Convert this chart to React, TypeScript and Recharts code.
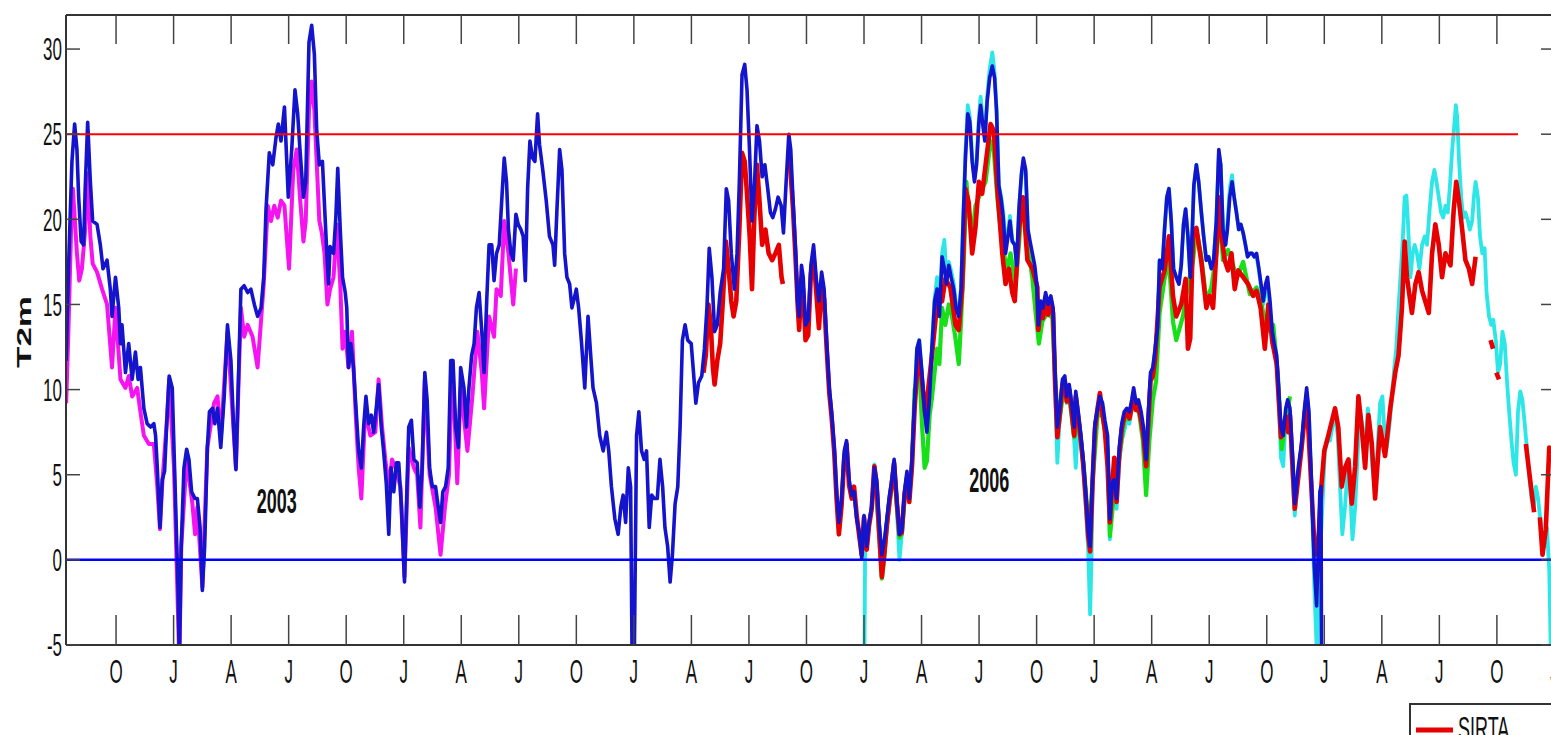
import React from "react";
import {
  LineChart,
  Line,
  XAxis,
  YAxis,
  ReferenceLine,
  ReferenceDot,
  Legend,
} from "recharts";

// [month since 1 Jul 2002, T2m in degC]; null breaks the line
type Row = [number, number | null];

const blueT2m: Row[] = [
  [0.40, 11.7], [0.52, 17.1], [0.70, 23.4], [0.84, 25.6], [0.96, 24.1], [1.05, 21.3], [1.18, 18.7], [1.31, 18.5],
  [1.39, 21.8], [1.52, 25.7], [1.66, 22.2], [1.78, 19.9], [2.01, 19.7], [2.18, 18.5], [2.32, 17.1], [2.53, 17.6],
  [2.70, 15.9], [2.79, 14.3], [2.97, 16.6], [3.14, 14.8], [3.23, 12.7], [3.31, 13.8], [3.49, 11.0], [3.66, 12.7],
  [3.84, 10.6], [4.01, 12.2], [4.15, 10.6], [4.27, 11.3], [4.45, 8.9], [4.62, 8.0], [4.80, 7.8], [4.97, 8.0],
  [5.06, 7.3], [5.15, 5.4], [5.29, 1.9], [5.41, 4.7], [5.53, 5.2], [5.67, 8.7], [5.77, 10.8], [5.93, 10.1],
  [6.05, 5.4], [6.23, -1.6], [6.30, -6.0], [6.40, 0.8], [6.54, 5.4], [6.68, 6.5], [6.80, 5.9], [6.94, 4.0],
  [7.12, 3.6], [7.24, 3.6], [7.38, 1.9], [7.50, -1.8], [7.62, 0.8], [7.76, 6.6], [7.87, 8.7], [8.03, 8.9],
  [8.15, 8.0], [8.29, 8.9], [8.46, 6.6], [8.64, 9.6], [8.81, 13.8], [8.99, 11.7], [9.13, 7.8], [9.25, 5.3],
  [9.37, 10.1], [9.51, 15.9], [9.68, 16.1], [9.86, 15.7], [10.03, 15.9], [10.21, 15.0], [10.38, 14.3], [10.56, 14.8],
  [10.70, 16.6], [10.82, 20.6], [10.99, 23.9], [11.17, 23.2], [11.34, 24.8], [11.46, 25.6], [11.60, 24.6], [11.78, 26.6],
  [11.98, 21.3], [12.16, 24.1], [12.33, 27.6], [12.47, 26.2], [12.59, 24.1], [12.77, 21.3], [12.89, 22.2], [13.06, 30.4],
  [13.20, 31.4], [13.34, 29.7], [13.46, 25.3], [13.60, 23.2], [13.76, 23.4], [13.87, 20.8], [13.99, 18.0], [14.08, 16.2],
  [14.16, 18.4], [14.34, 18.0], [14.46, 20.1], [14.56, 23.0], [14.69, 19.4], [14.81, 16.6], [14.95, 15.7], [15.03, 14.8],
  [15.12, 11.3], [15.24, 12.7], [15.38, 11.3], [15.51, 8.9], [15.65, 6.4], [15.79, 5.4], [15.91, 7.8], [16.03, 9.6],
  [16.17, 8.0], [16.31, 8.5], [16.43, 7.5], [16.55, 8.7], [16.69, 10.3], [16.83, 7.8], [16.95, 6.4], [17.09, 4.5],
  [17.22, 1.5], [17.34, 5.4], [17.48, 4.0], [17.62, 5.7], [17.74, 5.7], [17.88, 3.1], [18.04, -1.3], [18.14, 3.1],
  [18.26, 7.8], [18.40, 8.2], [18.53, 5.9], [18.70, 5.7], [18.84, 3.1], [18.96, 5.4], [19.10, 11.0], [19.22, 9.4],
  [19.35, 5.4], [19.49, 4.3], [19.66, 4.3], [19.80, 3.1], [19.92, 2.2], [20.04, 4.0], [20.18, 4.3], [20.32, 5.4],
  [20.45, 11.7], [20.57, 11.7], [20.71, 7.8], [20.85, 6.6], [20.97, 11.3], [21.14, 10.1], [21.27, 7.8], [21.40, 10.1],
  [21.54, 12.0], [21.67, 12.7], [21.79, 14.8], [21.93, 15.7], [22.07, 13.4], [22.19, 11.0], [22.33, 15.3], [22.45, 18.5],
  [22.59, 18.5], [22.71, 16.4], [22.84, 18.0], [22.98, 18.5], [23.12, 21.3], [23.24, 23.6], [23.36, 22.2], [23.46, 19.4],
  [23.59, 18.0], [23.71, 17.6], [23.85, 20.3], [23.97, 19.7], [24.11, 19.4], [24.23, 19.0], [24.34, 16.4], [24.46, 21.8],
  [24.58, 24.6], [24.72, 23.6], [24.84, 23.4], [24.98, 26.2], [25.08, 24.4], [25.25, 22.9], [25.43, 21.1], [25.60, 19.0],
  [25.78, 18.5], [25.87, 17.3], [25.99, 20.6], [26.13, 24.1], [26.25, 22.9], [26.39, 18.0], [26.51, 16.6], [26.65, 16.2],
  [26.77, 14.8], [26.88, 15.3], [27.00, 15.9], [27.12, 14.8], [27.26, 12.9], [27.44, 10.1], [27.61, 14.3], [27.75, 12.0],
  [27.87, 10.1], [28.05, 9.2], [28.22, 7.3], [28.40, 6.4], [28.57, 7.5], [28.69, 6.4], [28.83, 4.3], [29.01, 2.4],
  [29.18, 1.5], [29.32, 3.1], [29.44, 3.8], [29.57, 2.2], [29.71, 5.4], [29.83, 4.3], [29.91, -6.0], [30.02, -6.0],
  [30.14, 7.3], [30.26, 8.7], [30.40, 6.4], [30.54, 5.9], [30.66, 6.4], [30.80, 1.9], [30.93, 3.8], [31.07, 3.6],
  [31.22, 3.6], [31.36, 5.9], [31.50, 4.3], [31.62, 1.9], [31.76, 0.8], [31.89, -1.3], [32.01, 0.3], [32.15, 3.3],
  [32.29, 4.3], [32.41, 7.8], [32.53, 12.9], [32.67, 13.8], [32.81, 12.9], [32.99, 12.7], [33.11, 11.0], [33.23, 9.2],
  [33.37, 10.4], [33.54, 10.8], [33.68, 12.4], [33.81, 14.8], [33.93, 18.3], [34.07, 16.6], [34.21, 13.4], [34.35, 13.8],
  [34.50, 15.7], [34.68, 17.1], [34.82, 21.8], [34.94, 21.1], [35.08, 18.0], [35.24, 15.9], [35.38, 18.0], [35.50, 22.2],
  [35.64, 28.5], [35.78, 29.1], [35.90, 27.6], [36.03, 24.1], [36.16, 19.9], [36.28, 21.8], [36.42, 25.5], [36.55, 24.6],
  [36.69, 22.5], [36.83, 23.2], [36.98, 21.8], [37.12, 20.4], [37.24, 20.1], [37.38, 20.6], [37.52, 21.3], [37.68, 20.8],
  [37.80, 19.2], [37.94, 22.2], [38.08, 25.0], [38.18, 24.1], [38.30, 21.1], [38.44, 18.0], [38.53, 15.2], [38.62, 14.3],
  [38.74, 17.3], [38.83, 16.6], [38.95, 13.8], [39.09, 14.1], [39.23, 17.3], [39.37, 18.5], [39.52, 16.4], [39.65, 15.2],
  [39.79, 16.9], [39.92, 15.9], [40.05, 12.9], [40.19, 10.1], [40.31, 8.7], [40.45, 6.6], [40.57, 4.0], [40.69, 2.2],
  [40.83, 3.6], [40.97, 6.4], [41.09, 7.0], [41.22, 4.7], [41.36, 3.8], [41.48, 4.0], [41.62, 2.4], [41.74, 1.7],
  [41.88, 0.1], [42.00, 2.6], [42.14, 0.8], [42.26, 2.2], [42.40, 3.1], [42.54, 5.4], [42.66, 4.7], [42.79, 2.2],
  [42.93, 0.3], [43.07, 1.2], [43.19, 2.4], [43.33, 3.8], [43.45, 4.7], [43.57, 5.9], [43.71, 3.6], [43.85, 1.5],
  [43.97, 1.7], [44.11, 4.0], [44.24, 5.2], [44.36, 3.6], [44.50, 5.9], [44.64, 9.4], [44.76, 12.4], [44.88, 12.9],
  [45.02, 11.0], [45.16, 8.7], [45.28, 7.5], [45.42, 9.6], [45.54, 12.4], [45.68, 15.2], [45.81, 15.9], [45.93, 14.3],
  [46.07, 17.8], [46.19, 17.1], [46.30, 16.2], [46.42, 17.3], [46.54, 16.6], [46.68, 15.9], [46.80, 14.8], [46.94, 14.3],
  [47.06, 15.9], [47.17, 19.9], [47.29, 23.6], [47.41, 26.2], [47.52, 25.7], [47.64, 23.4], [47.76, 22.2], [47.87, 23.2],
  [47.99, 25.7], [48.08, 26.7], [48.20, 25.5], [48.30, 24.6], [48.42, 26.9], [48.55, 28.3], [48.69, 29.0], [48.81, 28.3],
  [48.91, 26.4], [49.03, 22.0], [49.16, 21.1], [49.26, 20.1], [49.38, 18.0], [49.51, 19.0], [49.61, 19.9], [49.73, 18.7],
  [49.86, 18.5], [49.96, 17.3], [50.08, 20.6], [50.21, 22.7], [50.31, 23.6], [50.43, 22.9], [50.55, 19.4], [50.66, 18.7],
  [50.78, 18.0], [50.90, 17.3], [51.01, 16.2], [51.09, 13.8], [51.21, 15.2], [51.33, 14.8], [51.47, 15.7], [51.60, 15.0],
  [51.74, 15.5], [51.86, 14.8], [51.96, 11.0], [52.08, 7.8], [52.21, 8.9], [52.35, 10.6], [52.47, 10.8], [52.57, 9.6],
  [52.70, 10.3], [52.83, 9.2], [52.96, 7.8], [53.04, 9.9], [53.17, 8.7], [53.31, 7.3], [53.43, 5.9], [53.57, 3.8],
  [53.69, 1.7], [53.79, 0.8], [53.92, 5.0], [54.04, 8.0], [54.18, 8.9], [54.30, 9.6], [54.44, 9.2], [54.56, 8.2],
  [54.70, 7.3], [54.82, 2.4], [54.93, 4.5], [55.05, 4.7], [55.17, 3.6], [55.31, 6.6], [55.44, 8.0], [55.57, 8.7],
  [55.70, 8.9], [55.84, 8.7], [55.96, 9.4], [56.06, 10.1], [56.19, 9.2], [56.31, 9.4], [56.45, 8.7], [56.57, 7.8],
  [56.71, 5.9], [56.83, 8.7], [56.94, 11.0], [57.06, 11.3], [57.18, 12.4], [57.30, 13.6], [57.41, 17.6], [57.55, 17.1],
  [57.67, 19.4], [57.79, 21.3], [57.90, 21.8], [58.02, 19.9], [58.14, 17.1], [58.28, 16.6], [58.42, 16.2], [58.54, 17.3],
  [58.66, 19.7], [58.77, 20.6], [58.89, 19.0], [59.01, 16.6], [59.12, 19.4], [59.20, 22.0], [59.33, 23.2], [59.45, 22.2],
  [59.59, 20.4], [59.71, 19.0], [59.85, 17.6], [59.97, 17.8], [60.11, 17.1], [60.23, 17.6], [60.37, 19.9], [60.50, 24.1],
  [60.60, 23.2], [60.72, 19.4], [60.85, 18.5], [60.95, 19.4], [61.07, 21.3], [61.19, 22.2], [61.30, 21.3], [61.42, 20.4],
  [61.54, 19.4], [61.65, 19.7], [61.77, 19.2], [61.89, 18.5], [62.00, 17.8], [62.12, 18.0], [62.24, 18.0], [62.35, 17.8],
  [62.47, 18.0], [62.59, 17.1], [62.70, 16.2], [62.82, 15.2], [62.94, 16.2], [63.04, 16.6], [63.17, 15.2], [63.29, 13.4],
  [63.39, 12.7], [63.52, 12.0], [63.64, 9.6], [63.74, 7.8], [63.86, 7.3], [63.99, 8.9], [64.09, 9.4], [64.21, 8.9],
  [64.35, 6.0], [64.46, 3.3], [64.64, 5.4], [64.81, 6.8], [64.95, 8.7], [65.08, 10.1], [65.20, 8.7], [65.34, 4.3],
  [65.48, -0.4], [65.60, -2.7], [65.69, 0.8], [65.77, 4.0], [65.83, 4.3], [65.86, -8.0],
];

const magentaT2m: Row[] = [
  [0.40, 9.2], [0.52, 13.6], [0.70, 21.3], [0.75, 21.8], [0.96, 18.0], [1.08, 16.4], [1.22, 17.1], [1.39, 19.4],
  [1.52, 22.7], [1.66, 19.0], [1.78, 17.4], [2.01, 16.9], [2.27, 15.9], [2.53, 15.0], [2.79, 11.3], [2.97, 14.8],
  [3.23, 10.6], [3.49, 10.1], [3.66, 10.8], [3.84, 9.6], [4.10, 10.1], [4.27, 8.7], [4.45, 7.3], [4.71, 6.8],
  [4.97, 6.8], [5.15, 4.3], [5.29, 1.8], [5.41, 4.5], [5.67, 8.5], [5.77, 10.6], [6.02, 5.4], [6.30, -6.0],
  [6.40, 0.8], [6.68, 5.9], [6.98, 3.3], [7.12, 1.5], [7.24, 3.1], [7.50, -1.6], [7.76, 6.6], [8.11, 9.2],
  [8.29, 9.6], [8.46, 7.1], [8.81, 13.4], [9.25, 5.4], [9.51, 14.8], [9.68, 13.1], [9.86, 13.8], [10.12, 13.1],
  [10.38, 11.3], [10.70, 16.2], [10.91, 20.8], [11.08, 19.9], [11.25, 20.8], [11.43, 20.1], [11.60, 21.1], [11.78, 20.8],
  [12.02, 17.1], [12.24, 22.9], [12.42, 24.1], [12.59, 21.3], [12.77, 18.7], [12.89, 19.9], [13.06, 26.4], [13.20, 28.1],
  [13.34, 26.4], [13.46, 23.4], [13.60, 19.9], [13.73, 19.2], [13.87, 18.0], [14.02, 15.0], [14.16, 15.9], [14.34, 16.6],
  [14.51, 19.7], [14.69, 16.2], [14.81, 12.4], [14.95, 13.4], [15.12, 11.3], [15.30, 13.4], [15.51, 8.2], [15.65, 5.4],
  [15.79, 3.6], [15.99, 8.7], [16.26, 7.3], [16.52, 7.5], [16.69, 10.6], [16.87, 7.8], [17.04, 5.9], [17.22, 4.3],
  [17.39, 5.9], [17.57, 5.4], [17.83, 4.3], [18.04, -1.0], [18.26, 6.6], [18.53, 5.4], [18.70, 5.0], [18.87, 1.9],
  [19.10, 10.6], [19.35, 5.0], [19.66, 3.1], [19.92, 0.3], [20.15, 3.1], [20.36, 5.0], [20.53, 11.7], [20.79, 4.5],
  [20.97, 10.1], [21.32, 6.4], [21.58, 9.6], [21.84, 13.4], [22.07, 11.0], [22.19, 8.9], [22.45, 14.3], [22.71, 13.1],
  [22.84, 15.9], [23.06, 15.5], [23.24, 19.9], [23.46, 18.0], [23.71, 15.0], [23.85, 17.1],
];

const sirtaT2m: Row[] = [
  [33.63, 11.0], [33.75, 12.0], [33.89, 15.0], [34.01, 13.8], [34.12, 11.3], [34.21, 10.3], [34.35, 11.7], [34.50, 12.7],
  [34.64, 15.2], [34.80, 18.7], [34.94, 17.1], [35.08, 15.2], [35.20, 14.3], [35.34, 15.2], [35.50, 19.4], [35.64, 23.9],
  [35.78, 23.4], [35.90, 21.5], [36.04, 19.0], [36.16, 15.9], [36.28, 20.1], [36.42, 23.2], [36.55, 21.1], [36.69, 18.5],
  [36.86, 19.4], [37.03, 18.0], [37.21, 17.6], [37.38, 18.0], [37.56, 18.5], [37.70, 16.6], [37.77, 16.2], [37.90, null],
  [38.10, 24.0], [38.30, 20.6], [38.44, 17.5], [38.55, 14.8], [38.62, 13.5], [38.74, 16.5], [38.83, 15.8], [38.95, 12.9],
  [39.09, 13.2], [39.23, 16.8], [39.37, 17.8], [39.52, 15.6], [39.65, 13.6], [39.79, 16.2], [39.92, 15.3], [40.05, 12.5],
  [40.19, 9.8], [40.31, 8.4], [40.45, 6.3], [40.57, 3.6], [40.69, 1.5], [40.83, 3.2], [40.97, 6.0], [41.09, 6.8],
  [41.22, 4.4], [41.36, 3.6], [41.48, 4.3], [41.62, 2.6], [41.74, 1.5], [41.88, 0.3], [42.00, 2.5], [42.14, 0.6],
  [42.26, 2.0], [42.40, 3.0], [42.54, 5.5], [42.66, 4.4], [42.79, 1.6], [42.93, -1.0], [43.07, 0.5], [43.19, 2.0],
  [43.33, 3.5], [43.45, 4.5], [43.57, 5.7], [43.71, 3.4], [43.85, 1.5], [43.97, 1.6], [44.11, 3.8], [44.24, 4.8],
  [44.36, 3.4], [44.50, 5.5], [44.64, 8.9], [44.85, 12.5], [45.20, 8.5], [45.54, 12.0], [45.81, 15.0], [46.07, 15.2],
  [46.24, 16.5], [46.50, 16.0], [46.77, 13.8], [46.94, 13.5], [47.12, 16.0], [47.29, 21.8], [47.46, 21.0], [47.64, 18.0],
  [47.81, 19.5], [47.99, 22.2], [48.16, 21.5], [48.34, 23.2], [48.60, 25.6], [48.77, 25.2], [48.95, 21.8], [49.21, 18.0],
  [49.38, 16.2], [49.56, 17.1], [49.73, 15.7], [49.86, 15.2], [50.08, 19.4], [50.29, 21.3], [50.52, 17.6], [50.78, 17.1],
  [51.04, 16.0], [51.09, 13.5], [51.21, 14.8], [51.33, 14.2], [51.47, 15.2], [51.60, 14.4], [51.74, 15.2], [51.86, 14.5],
  [51.96, 10.5], [52.08, 7.2], [52.21, 8.6], [52.35, 10.3], [52.47, 10.5], [52.57, 9.3], [52.70, 10.0], [52.83, 8.7],
  [52.96, 7.3], [53.04, 9.6], [53.17, 8.4], [53.31, 7.0], [53.43, 5.6], [53.57, 3.5], [53.69, 1.4], [53.79, 0.5],
  [53.92, 4.6], [54.04, 7.7], [54.18, 8.9], [54.30, 9.8], [54.44, 8.5], [54.56, 7.6], [54.70, 5.5], [54.82, 2.2],
  [54.93, 4.2], [55.05, 6.0], [55.17, 3.4], [55.31, 6.2], [55.44, 7.7], [55.57, 8.4], [55.70, 8.6], [55.84, 8.3],
  [55.96, 9.0], [56.06, 9.7], [56.19, 8.8], [56.31, 9.0], [56.45, 8.2], [56.57, 7.3], [56.71, 5.5], [56.83, 8.2],
  [56.94, 10.5], [57.06, 10.8], [57.18, 11.8], [57.41, 16.0], [57.67, 17.0], [57.90, 19.0], [58.11, 15.5], [58.28, 14.3],
  [58.54, 15.0], [58.77, 16.5], [58.89, 12.4], [59.01, 13.0], [59.15, 19.0], [59.33, 19.5], [59.59, 17.5], [59.85, 14.8],
  [60.02, 15.5], [60.20, 14.8], [60.37, 18.0], [60.51, 21.3], [60.65, 19.0], [60.81, 17.6], [60.98, 17.0], [61.16, 18.0],
  [61.33, 15.9], [61.51, 17.0], [61.77, 16.6], [62.03, 16.2], [62.29, 15.5], [62.47, 15.8], [62.68, 14.8], [62.90, 12.4],
  [63.08, 15.0], [63.29, 12.8], [63.52, 11.5], [63.74, 7.2], [63.99, 8.4], [64.12, 7.5], [64.21, 8.5], [64.46, 3.0],
  [64.81, 6.5], [65.08, 9.6], [65.34, 4.0], [65.51, 0.3], [65.69, 1.0], [65.86, 4.5], [66.00, 6.4], [66.21, 7.3],
  [66.56, 8.9], [66.73, 7.8], [66.91, 4.3], [67.08, 5.4], [67.26, 5.9], [67.43, 3.3], [67.61, 5.5], [67.78, 9.6],
  [67.95, 7.8], [68.13, 5.4], [68.30, 8.5], [68.48, 6.8], [68.65, 3.6], [68.91, 7.8], [69.17, 6.1], [69.44, 8.9],
  [69.70, 11.0], [69.87, 12.0], [70.05, 14.8], [70.19, 18.7], [70.31, 16.6], [70.57, 14.5], [70.75, 16.2], [70.92, 16.9],
  [71.10, 15.8], [71.45, 14.5], [71.62, 18.0], [71.79, 19.7], [71.97, 18.5], [72.14, 16.6], [72.32, 18.0], [72.58, 17.3],
  [72.75, 20.6], [72.88, 22.2], [73.02, 21.1], [73.19, 19.4], [73.36, 17.6], [73.54, 17.1], [73.71, 16.2], [73.89, 17.8],
  [74.20, null], [74.67, 12.9], [74.80, 12.4], [74.88, null], [74.97, 11.0], [75.11, 10.6], [75.80, null], [76.51, 6.8],
  [76.68, 5.2], [76.94, 2.8], [77.10, null], [77.24, 2.5], [77.38, 0.3], [77.55, 1.8], [77.73, 6.6], [77.85, 6.2],
];

const greenT2m: Row[] = [
  [42.60, 4.5], [42.79, 1.5], [42.93, -1.1], [43.07, 0.3], [43.19, 2.0], [43.33, 3.3], [43.45, 4.3], [43.57, 5.5],
  [43.71, 3.3], [43.85, 1.3], [43.97, 1.5], [44.11, 3.5], [44.24, 4.7], [44.36, 3.8], [44.50, 5.5], [44.64, 10.0],
  [44.76, 10.6], [44.88, 11.5], [45.02, 8.0], [45.16, 5.4], [45.28, 5.8], [45.42, 8.5], [45.54, 9.5], [45.68, 11.0],
  [45.81, 12.4], [45.93, 11.5], [46.07, 14.8], [46.24, 13.8], [46.42, 15.0], [46.59, 14.3], [46.77, 13.0], [46.94, 11.5],
  [47.06, 14.0], [47.20, 17.5], [47.34, 22.2], [47.46, 20.5], [47.64, 19.0], [47.81, 20.8], [47.99, 21.3], [48.16, 21.8],
  [48.34, 22.2], [48.60, 24.6], [48.77, 24.0], [48.95, 21.3], [49.21, 18.5], [49.38, 17.5], [49.47, 17.1], [49.64, 18.0],
  [49.90, 16.2], [50.08, 18.5], [50.25, 21.3], [50.43, 20.0], [50.60, 18.0], [50.78, 16.5], [50.95, 14.5], [51.12, 12.7],
  [51.30, 14.0], [51.56, 14.5], [51.82, 14.2], [52.00, 10.0], [52.17, 8.0], [52.43, 10.2], [52.70, 9.6], [52.96, 7.2],
  [53.22, 8.0], [53.48, 5.2], [53.74, 1.5], [53.95, 5.0], [54.18, 8.5], [54.44, 8.5], [54.70, 6.5], [54.82, 1.4],
  [55.05, 4.0], [55.31, 6.0], [55.57, 8.2], [55.84, 8.3], [56.10, 9.5], [56.36, 8.5], [56.54, 7.0], [56.71, 3.8],
  [56.88, 7.0], [57.06, 9.4], [57.23, 10.5], [57.41, 14.5], [57.67, 16.5], [57.90, 17.6], [58.11, 14.0], [58.28, 12.9],
  [58.63, 14.3], [58.80, 15.5], [58.98, 16.6], [59.15, 17.5], [59.33, 19.4], [59.59, 17.8], [59.85, 15.2], [60.11, 16.0],
  [60.37, 18.0], [60.55, 20.1], [60.72, 17.6], [60.98, 18.2], [61.25, 17.3], [61.42, 16.5], [61.77, 17.5], [62.12, 15.6],
  [62.47, 16.0], [62.73, 15.0], [63.00, 13.4], [63.34, 13.8], [63.60, 10.5], [63.78, 6.5], [64.04, 8.5], [64.21, 9.6],
];

const cyanT2m: Row[] = [
  [42.02, -6.0], [42.06, 1.0], [42.14, 0.6], [42.26, 2.0], [42.40, 3.2], [42.54, 5.6], [42.66, 4.5], [42.79, 2.0],
  [42.93, 0.0], [43.07, 1.0], [43.19, 2.2], [43.33, 3.7], [43.45, 4.6], [43.57, 5.8], [43.71, 3.0], [43.85, 0.0],
  [43.97, 1.5], [44.11, 3.8], [44.24, 5.0], [44.36, 3.5], [44.50, 5.8], [44.64, 9.5], [44.76, 12.4], [44.88, 12.9],
  [45.02, 11.0], [45.16, 8.7], [45.28, 7.5], [45.42, 9.8], [45.54, 12.6], [45.68, 15.3], [45.81, 16.6], [45.93, 14.5],
  [46.07, 18.0], [46.19, 18.8], [46.30, 16.6], [46.42, 17.5], [46.54, 17.0], [46.68, 16.2], [46.80, 15.0], [46.94, 14.5],
  [47.06, 16.0], [47.17, 20.0], [47.29, 24.0], [47.41, 26.7], [47.52, 26.0], [47.64, 23.6], [47.76, 22.4], [47.87, 23.5],
  [47.99, 26.0], [48.08, 27.2], [48.20, 25.8], [48.30, 24.8], [48.42, 27.2], [48.55, 28.8], [48.69, 29.8], [48.81, 28.6],
  [48.91, 26.5], [49.03, 22.0], [49.16, 21.3], [49.26, 20.4], [49.38, 18.5], [49.51, 19.3], [49.61, 20.2], [49.73, 18.8],
  [49.86, 18.5], [49.96, 17.3], [50.08, 20.6], [50.21, 22.5], [50.31, 23.4], [50.43, 22.7], [50.55, 19.2], [50.66, 18.4],
  [50.78, 17.2], [50.90, 16.4], [51.01, 15.4], [51.09, 13.6], [51.21, 15.0], [51.33, 14.5], [51.47, 15.5], [51.60, 14.7],
  [51.74, 15.3], [51.86, 14.6], [51.96, 10.5], [52.08, 5.7], [52.21, 8.5], [52.35, 10.5], [52.47, 10.4], [52.57, 9.2],
  [52.70, 10.0], [52.83, 8.5], [52.96, 7.0], [53.04, 5.4], [53.17, 8.2], [53.31, 7.0], [53.43, 5.5], [53.57, 3.0],
  [53.69, 0.5], [53.79, -3.2], [53.87, 0.5], [53.92, 4.5], [54.04, 7.6], [54.18, 8.5], [54.30, 9.0], [54.44, 8.6],
  [54.56, 7.5], [54.70, 6.5], [54.82, 1.2], [54.93, 3.5], [55.05, 4.3], [55.17, 3.0], [55.31, 5.8], [55.44, 7.0],
  [55.57, 7.6], [55.70, 8.2], [55.84, 8.0], [55.96, 8.8], [56.06, 9.5], [56.19, 8.8], [56.31, 8.8], [56.45, 8.3],
  [56.57, 7.5], [56.71, 5.5], [56.83, 8.5], [56.94, 10.8], [57.06, 11.2], [57.18, 12.3], [57.30, 13.6], [57.41, 17.6],
  [57.55, 17.1], [57.67, 19.4], [57.79, 21.3], [57.90, 21.8], [58.02, 19.9], [58.14, 17.1], [58.28, 16.6], [58.42, 16.2],
  [58.54, 17.3], [58.66, 19.7], [58.77, 20.6], [58.89, 19.0], [59.01, 16.6], [59.12, 19.4], [59.20, 22.0], [59.33, 23.2],
  [59.45, 22.2], [59.59, 20.4], [59.71, 19.0], [59.85, 17.6], [59.97, 17.8], [60.11, 17.1], [60.23, 17.6], [60.37, 19.9],
  [60.50, 23.8], [60.60, 23.2], [60.72, 19.4], [60.85, 18.5], [60.95, 19.8], [61.07, 21.8], [61.19, 22.6], [61.30, 21.3],
  [61.42, 20.4], [61.54, 19.4], [61.65, 19.7], [61.77, 19.2], [61.89, 18.5], [62.00, 17.8], [62.12, 18.0], [62.24, 18.0],
  [62.35, 17.8], [62.47, 17.8], [62.59, 17.0], [62.70, 16.0], [62.82, 15.0], [62.94, 15.8], [63.04, 16.2], [63.17, 14.5],
  [63.29, 12.8], [63.39, 12.3], [63.52, 11.5], [63.64, 9.0], [63.74, 6.0], [63.86, 5.5], [63.99, 8.5], [64.09, 9.0],
  [64.21, 8.7], [64.29, 6.0], [64.46, 2.6], [64.64, 5.0], [64.81, 6.5], [64.95, 8.5], [65.08, 9.8], [65.20, 8.5],
  [65.34, 4.0], [65.48, -1.6], [65.63, -6.0], [65.70, -1.6], [65.90, 3.1], [66.03, 6.4], [66.17, 7.0], [66.30, 7.0],
  [66.42, 7.8], [66.56, 8.5], [66.70, 7.3], [66.82, 4.3], [66.94, 1.5], [67.08, 3.1], [67.22, 5.4], [67.34, 4.3],
  [67.47, 1.2], [67.61, 3.1], [67.75, 6.4], [67.87, 8.7], [67.99, 7.8], [68.13, 6.4], [68.27, 8.9], [68.39, 7.8],
  [68.51, 5.4], [68.65, 4.0], [68.77, 6.4], [68.91, 9.2], [69.03, 9.6], [69.14, 7.5], [69.26, 6.6], [69.39, 7.8],
  [69.53, 9.6], [69.65, 11.3], [69.75, 12.4], [69.87, 14.8], [70.00, 17.1], [70.10, 19.0], [70.19, 21.3], [70.28, 21.4],
  [70.36, 19.9], [70.49, 16.6], [70.61, 18.0], [70.71, 18.5], [70.83, 18.0], [70.96, 17.1], [71.10, 18.5], [71.24, 19.0],
  [71.36, 18.5], [71.48, 20.4], [71.62, 22.2], [71.74, 22.9], [71.85, 22.2], [71.97, 21.3], [72.09, 20.4], [72.20, 20.1],
  [72.32, 20.8], [72.44, 20.4], [72.54, 21.8], [72.67, 24.1], [72.79, 25.7], [72.86, 26.7], [72.93, 26.0], [73.02, 23.6],
  [73.14, 21.3], [73.24, 20.1], [73.36, 20.4], [73.49, 19.9], [73.59, 19.4], [73.71, 19.9], [73.80, 21.3], [73.89, 22.2],
  [74.01, 21.3], [74.12, 19.0], [74.24, 18.0], [74.36, 18.3], [74.46, 15.7], [74.59, 14.3], [74.71, 13.8], [74.81, 14.1],
  [74.94, 12.9], [75.06, 11.0], [75.17, 11.5], [75.29, 13.4], [75.41, 12.7], [75.52, 10.6], [75.64, 8.7], [75.76, 7.0],
  [75.87, 5.7], [75.99, 5.0], [76.10, 8.7], [76.22, 9.9], [76.33, 9.4], [76.45, 8.0], [76.56, 6.6], [76.68, 5.0],
  [76.80, 3.6], [76.91, 3.1], [77.03, 4.3], [77.15, 3.6], [77.26, 2.4], [77.38, 1.2], [77.50, 0.8], [77.61, 1.9],
  [77.73, -0.6], [77.82, -6.0], [77.90, -8.0],
];

const monthDomain: [number, number] = [0.39, 78.03];
const tempDomain: [number, number] = [-5, 32];
const quarterTicks = Array.from({ length: 26 }, (_, i) => 3 * (i + 1));
const quarterLabels = ["O", "J", "A", "J"];
const tempTicks = [-5, 0, 5, 10, 15, 20, 25, 30];
const heatLimit = 25;
const heatLineEnd = 76.1;
const frostLimit = 0;
const yearNotes = [
  { label: "2003", month: 11.38, temp: 3.5 },
  { label: "2006", month: 48.53, temp: 4.74 },
];

const FONT = '"Liberation Sans", Arial, Helvetica, sans-serif';
const AXIS = "#333";
const TICK = "#444";

const toPoints = (rows: Row[]) => rows.map(([m, v]) => ({ m, v }));

const BottomTick = ({ x, y, payload }: any) => (
  <g>
    <line x1={x} x2={x} y1={y} y2={y - 30} stroke={TICK} strokeWidth={1.5} />
    <text
      transform={`translate(${x},${y + 27}) scale(1,1.95)`}
      textAnchor="middle"
      dominantBaseline="central"
      fontSize={17}
      fontFamily={FONT}
      fill="#111"
    >
      {quarterLabels[(Math.round(payload.value / 3) - 1) % 4]}
    </text>
  </g>
);

const TopTick = ({ x, y }: any) => (
  <line x1={x} x2={x} y1={y} y2={y + 29} stroke={TICK} strokeWidth={1.5} />
);

const LeftTick = ({ x, y, payload }: any) => (
  <g>
    <line x1={x} x2={x + 14} y1={y} y2={y} stroke={TICK} strokeWidth={1.5} />
    <text
      transform={`translate(${x - 4},${y}) scale(1,1.9)`}
      textAnchor="end"
      dominantBaseline="central"
      fontSize={17}
      fontFamily={FONT}
      fill="#111"
    >
      {payload.value}
    </text>
  </g>
);

const RightTick = ({ x, y }: any) => (
  <line x1={x} x2={x - 14} y1={y} y2={y} stroke={TICK} strokeWidth={1.5} />
);

const AxisTitle = ({ viewBox }: any) => (
  <text
    transform={`translate(${viewBox.x + 24},${viewBox.y + viewBox.height / 2 + 2}) rotate(-90) scale(1.75,1)`}
    textAnchor="middle"
    dominantBaseline="central"
    fontSize={20}
    fontWeight="bold"
    fontFamily={FONT}
    fill="#111"
  >
    T2m
  </text>
);

const YearTag = ({ cx, cy, label }: any) => (
  <text
    transform={`translate(${cx},${cy}) scale(1,2)`}
    textAnchor="middle"
    dominantBaseline="central"
    fontSize={18}
    fontWeight="bold"
    fontFamily={FONT}
    fill="#111"
  >
    {label}
  </text>
);

const KeyBox = ({ payload }: any) => {
  const entry = (payload || []).find((p: any) => p.value === "SIRTA");
  return (
    <svg width={200} height={60}>
      <rect x={1} y={1} width={196} height={56} fill="#fff" stroke={AXIS} strokeWidth={2} />
      <line x1={7} x2={44} y1={27} y2={27} stroke={entry ? entry.color : "#e00000"} strokeWidth={5} />
      <text
        transform="translate(49,37) scale(1,1.8)"
        fontSize={18}
        fontFamily={FONT}
        fill="#111"
      >
        SIRTA
      </text>
    </svg>
  );
};

export default function App() {
  return (
    <div
      style={{
        position: "absolute",
        left: 0,
        top: 0,
        width: 1551,
        height: 735,
        overflow: "hidden",
        background: "#fff",
      }}
    >
      <LineChart width={1600} height={735} margin={{ top: 0, right: 0, bottom: 0, left: 0 }}>
        <XAxis
          xAxisId="b"
          dataKey="m"
          type="number"
          domain={monthDomain}
          allowDataOverflow
          ticks={quarterTicks}
          interval={0}
          height={90}
          tickSize={0}
          tickMargin={0}
          tickLine={false}
          axisLine={{ stroke: AXIS, strokeWidth: 2 }}
          tick={<BottomTick />}
        />
        <XAxis
          xAxisId="t"
          orientation="top"
          dataKey="m"
          type="number"
          domain={monthDomain}
          allowDataOverflow
          ticks={quarterTicks}
          interval={0}
          height={15}
          tickSize={0}
          tickMargin={0}
          tickLine={false}
          axisLine={{ stroke: AXIS, strokeWidth: 2 }}
          tick={<TopTick />}
        />
        <YAxis
          yAxisId="l"
          type="number"
          domain={tempDomain}
          allowDataOverflow
          ticks={tempTicks}
          interval={0}
          width={66}
          tickSize={0}
          tickMargin={0}
          tickLine={false}
          axisLine={{ stroke: AXIS, strokeWidth: 2 }}
          tick={<LeftTick />}
          label={{ content: <AxisTitle /> } as any}
        />
        <YAxis
          yAxisId="r"
          orientation="right"
          type="number"
          domain={tempDomain}
          allowDataOverflow
          ticks={tempTicks}
          interval={0}
          width={45}
          tickSize={0}
          tickMargin={0}
          tickLine={false}
          axisLine={{ stroke: AXIS, strokeWidth: 2 }}
          tick={<RightTick />}
        />

        <Line
          xAxisId="b"
          yAxisId="l"
          data={toPoints(cyanT2m)}
          dataKey="v"
          name="cyan"
          legendType="none"
          stroke="#2ce6e8"
          strokeWidth={3.8}
          dot={false}
          activeDot={false}
          strokeLinejoin="round"
          isAnimationActive={false}
        />
        <Line
          xAxisId="b"
          yAxisId="l"
          data={toPoints(greenT2m)}
          dataKey="v"
          name="green"
          legendType="none"
          stroke="#18e018"
          strokeWidth={4.2}
          dot={false}
          activeDot={false}
          strokeLinejoin="round"
          isAnimationActive={false}
        />
        <Line
          xAxisId="b"
          yAxisId="l"
          data={toPoints(sirtaT2m)}
          dataKey="v"
          name="SIRTA"
          stroke="#e60000"
          strokeWidth={4.6}
          dot={false}
          activeDot={false}
          strokeLinejoin="round"
          isAnimationActive={false}
        />
        <Line
          xAxisId="b"
          yAxisId="l"
          data={toPoints(magentaT2m)}
          dataKey="v"
          name="magenta"
          legendType="none"
          stroke="#f514f0"
          strokeWidth={4}
          dot={false}
          activeDot={false}
          strokeLinejoin="round"
          isAnimationActive={false}
        />
        <Line
          xAxisId="b"
          yAxisId="l"
          data={toPoints(blueT2m)}
          dataKey="v"
          name="blue"
          legendType="none"
          stroke="#1414cc"
          strokeWidth={3.6}
          dot={false}
          activeDot={false}
          strokeLinejoin="round"
          isAnimationActive={false}
        />

        <ReferenceLine
          xAxisId="b"
          yAxisId="l"
          segment={[
            { x: monthDomain[0], y: heatLimit },
            { x: heatLineEnd, y: heatLimit },
          ]}
          stroke="#ff0000"
          strokeWidth={2}
        />
        <ReferenceLine xAxisId="b" yAxisId="l" y={frostLimit} stroke="#0000ff" strokeWidth={2.5} />

        {yearNotes.map((n) => (
          <ReferenceDot
            key={n.label}
            xAxisId="b"
            yAxisId="l"
            x={n.month}
            y={n.temp}
            r={0}
            shape={(p: any) => <YearTag cx={p.cx} cy={p.cy} label={n.label} />}
          />
        ))}

        <Legend
          layout="vertical"
          align="center"
          verticalAlign="middle"
          content={<KeyBox />}
          wrapperStyle={{ position: "absolute", left: 1409, top: 703, width: 200, height: 60 }}
        />
      </LineChart>
    </div>
  );
}
